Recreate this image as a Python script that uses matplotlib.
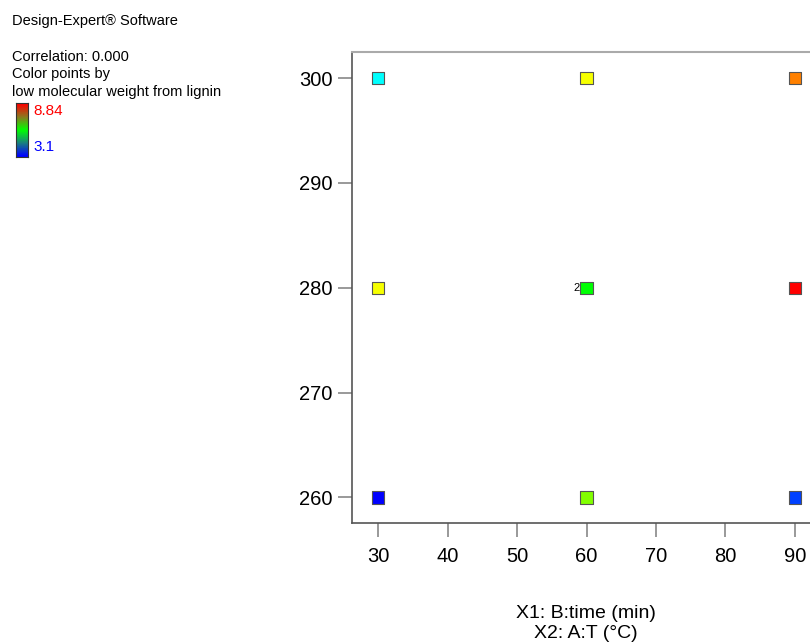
import numpy as np
import matplotlib
matplotlib.use("Agg")
import matplotlib.pyplot as plt
from matplotlib.colors import LinearSegmentedColormap, Normalize

plt.rcParams['font.family'] = ['Liberation Sans', 'DejaVu Sans']

# design points: B:time (min), A:T (°C), response
time_min = [30, 60, 90, 30, 60, 90, 30, 60, 90]
temp_c = [300, 300, 300, 280, 280, 280, 260, 260, 260]
lmw = [4.54, 7.35, 8.12, 7.35, 5.97, 8.84, 3.10, 6.69, 3.46]
replicates = [1, 1, 1, 1, 2, 1, 1, 1, 1]
vmin, vmax = 3.1, 8.84

x_ticks = [30, 40, 50, 60, 70, 80, 90]
y_ticks = [260, 270, 280, 290, 300]

pts_cmap = LinearSegmentedColormap.from_list(
    "de", ["#0000ff", "#00ffff", "#00ff00", "#ffff00", "#ff0000"])
bar_cmap = LinearSegmentedColormap.from_list(
    "bar", ["#0000ff", "#1a8080", "#00ff00", "#8a7a20", "#ff0000"])
norm = Normalize(vmin, vmax)

W, H = 810, 643
fig = plt.figure(figsize=(W / 100, H / 100), dpi=100)
ax = fig.add_axes([352 / W, 1 - 523 / H, (812 - 352) / W, (523 - 52) / H])

ax.scatter(time_min, temp_c, c=[pts_cmap(norm(v)) for v in lmw], marker="s",
           s=80, edgecolors="#555555", linewidths=0.8, zorder=3, clip_on=False)
for x, y, n in zip(time_min, temp_c, replicates):
    if n > 1:
        ax.text(x - 1.0, y, str(n), ha="right", va="center", fontsize=8)

ax.set_xlim(26.25, 92.45)
ax.set_ylim(257.55, 302.5)
ax.set_xticks(x_ticks)
ax.set_yticks(y_ticks)
ax.tick_params(direction="out", length=10, width=1.2, color="#888888",
               labelsize=14.5)
ax.tick_params(axis="x", pad=7)
ax.tick_params(axis="y", pad=4)
for side in ["left", "bottom"]:
    ax.spines[side].set_color("#555555")
    ax.spines[side].set_linewidth(1.2)
ax.spines["top"].set_color("#aaaaaa")
ax.spines["top"].set_linewidth(1.5)
ax.spines["right"].set_visible(False)

fig.text(586 / W, 1 - 613 / H, "X1: B:time (min)", ha="center", va="center", fontsize=14)
fig.text(586 / W, 1 - 633 / H, "X2: A:T (°C)", ha="center", va="center", fontsize=14)

# legend text block
fs = 10.5
fig.text(12 / W, 1 - 21 / H, "Design-Expert® Software", ha="left", va="center", fontsize=fs)
fig.text(12 / W, 1 - 57 / H, "Correlation: 0.000", ha="left", va="center", fontsize=fs)
fig.text(12 / W, 1 - 74 / H, "Color points by", ha="left", va="center", fontsize=fs)
fig.text(12 / W, 1 - 92 / H, "low molecular weight from lignin", ha="left", va="center", fontsize=fs)

cax = fig.add_axes([16 / W, 1 - 157 / H, 12 / W, 54 / H])
grad = np.linspace(0, 1, 30).reshape(-1, 1)
cax.imshow(grad, cmap=bar_cmap, aspect="auto", origin="lower")
cax.set_xticks([])
cax.set_yticks([])
for s in cax.spines.values():
    s.set_color("#333333")
    s.set_linewidth(0.8)
fig.text(33 / W, 1 - 111 / H, f"{vmax:.2f}", color="#ff0000", ha="left", va="center", fontsize=11)
fig.text(33 / W, 1 - 147 / H, f"{vmin:.1f}", color="#0000ff", ha="left", va="center", fontsize=11)

fig.savefig("out.png", dpi=100)
